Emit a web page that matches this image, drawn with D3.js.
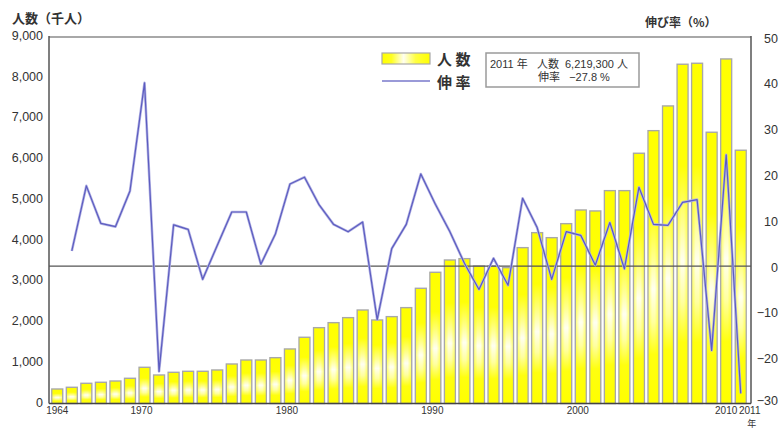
<!DOCTYPE html>
<html>
<head>
<meta charset="utf-8">
<script src="https://cdn.jsdelivr.net/npm/d3@7"></script>
<style>
  html, body { margin: 0; padding: 0; background: #fff; }
  svg { display: block; }
  text { fill: #333; }
</style>
</head>
<body>
<svg id="chart" width="781" height="428"></svg>
<script>
// Visitor numbers (thousands) and year-on-year growth (%)
const years = [1964, 1965, 1966, 1967, 1968, 1969, 1970, 1971, 1972, 1973, 1974, 1975,
  1976, 1977, 1978, 1979, 1980, 1981, 1982, 1983, 1984, 1985, 1986, 1987,
  1988, 1989, 1990, 1991, 1992, 1993, 1994, 1995, 1996, 1997, 1998, 1999,
  2000, 2001, 2002, 2003, 2004, 2005, 2006, 2007, 2008, 2009, 2010, 2011];

const visitors = [356, 398, 496, 521, 552, 619, 889, 700, 766, 791, 791, 823,
  970, 1068, 1068, 1125, 1339, 1626, 1862, 1985, 2108, 2296, 2051, 2133,
  2354, 2829, 3222, 3524, 3557, 3377, 3377, 3336, 3827, 4195, 4072, 4416,
  4752, 4728, 5227, 5227, 6145, 6700, 7307, 8331, 8355, 6661, 8461, 6219.3];

const growth = [null, 3.3, 17.5, 9.3, 8.6, 16.4, 40.0, -23.0, 9.0, 8.0, -2.9, 4.5,
  11.8, 11.8, 0.4, 7.0, 17.9, 19.4, 13.4, 9.1, 7.5, 9.6, -11.7, 3.8,
  9.1, 20.1, 13.5, 7.5, 0.6, -5.1, 1.7, -4.2, 14.8, 8.4, -2.9, 7.5,
  6.7, 0.2, 9.5, -0.6, 17.2, 9.1, 8.9, 13.9, 14.5, -18.4, 24.3, -27.8];

const leftTicks = [0, 1000, 2000, 3000, 4000, 5000, 6000, 7000, 8000, 9000];
const rightTicks = [-30, -20, -10, 0, 10, 20, 30, 40, 50];
const yearLabels = [1964, 1970, 1980, 1990, 2000, 2010, 2011];

const FONT = '"Liberation Sans", Arial, "Noto Sans CJK JP", sans-serif';
const JFONT = '"Noto Sans CJK JP", "Liberation Sans", sans-serif';

const svg = d3.select("#chart");
const plotL = 49, plotR = 751, plotT = 37, plotB = 403.5;

const x = d3.scaleBand().domain(years).range([50, 748])
  .paddingInner(0.25).paddingOuter(0.125);
const yL = d3.scaleLinear().domain([0, 9000]).range([plotB, plotT]);
const yR = d3.scaleLinear().domain([-30, 50]).range([plotB, plotT]);

// Gradients
const defs = svg.append("defs");
const gBar = defs.append("linearGradient").attr("id", "barFill")
  .attr("x1", 0).attr("y1", 0).attr("x2", 0).attr("y2", 1);
[[0, "#ffff00"], [0.3, "#ffff08"], [0.47, "#ffff90"], [0.58, "#fffff0"],
 [0.7, "#ffffa0"], [0.82, "#ffff10"], [1, "#ffff00"]].forEach(([o, c]) =>
  gBar.append("stop").attr("offset", o).attr("stop-color", c));
const gEdge = defs.append("linearGradient").attr("id", "barEdge")
  .attr("x1", 0).attr("y1", 0).attr("x2", 1).attr("y2", 0);
[[0, 0.45], [0.35, 0], [0.65, 0], [1, 0.45]].forEach(([o, a]) =>
  gEdge.append("stop").attr("offset", o).attr("stop-color", "#ffff00").attr("stop-opacity", a));
const gLeg = defs.append("linearGradient").attr("id", "legFill")
  .attr("x1", 0).attr("y1", 0).attr("x2", 1).attr("y2", 0);
[[0, "#ffff00"], [0.2, "#ffff20"], [0.45, "#fffff0"], [0.7, "#ffff40"], [1, "#ffff00"]]
  .forEach(([o, c]) => gLeg.append("stop").attr("offset", o).attr("stop-color", c));

// Bars
const bars = svg.append("g");
bars.selectAll("rect.bar").data(years).join("rect")
  .attr("class", "bar")
  .attr("x", d => x(d))
  .attr("y", (d, i) => yL(visitors[i]))
  .attr("width", x.bandwidth())
  .attr("height", (d, i) => plotB - yL(visitors[i]))
  .attr("fill", "url(#barFill)")
  .attr("stroke", "#a8a8a8").attr("stroke-width", 1.4);
bars.selectAll("rect.edge").data(years).join("rect")
  .attr("class", "edge")
  .attr("x", d => x(d) + 0.7)
  .attr("y", (d, i) => yL(visitors[i]) + 0.7)
  .attr("width", x.bandwidth() - 1.4)
  .attr("height", (d, i) => Math.max(0, plotB - yL(visitors[i]) - 1.4))
  .attr("fill", "url(#barEdge)");

// Frame
svg.append("line").attr("x1", plotL).attr("x2", plotR).attr("y1", plotT).attr("y2", plotT)
  .attr("stroke", "#a8a8a8").attr("stroke-width", 2);
svg.append("line").attr("x1", plotL).attr("x2", plotL).attr("y1", plotT - 1).attr("y2", plotB)
  .attr("stroke", "#555").attr("stroke-width", 1.5);
svg.append("line").attr("x1", plotR).attr("x2", plotR).attr("y1", plotT - 1).attr("y2", plotB)
  .attr("stroke", "#555").attr("stroke-width", 1.5);
svg.append("line").attr("x1", plotL).attr("x2", plotR).attr("y1", plotB).attr("y2", plotB)
  .attr("stroke", "#444").attr("stroke-width", 1.5);

// Zero line of growth axis
svg.append("line").attr("x1", plotL).attr("x2", plotR)
  .attr("y1", yR(0)).attr("y2", yR(0))
  .attr("stroke", "#555").attr("stroke-width", 1.2);

// Growth line
const pts = years.map((yr, i) => [yr, growth[i]]).filter(d => d[1] !== null);
const line = d3.line().x(d => x(d[0]) + x.bandwidth() / 2).y(d => yR(d[1]));
svg.append("path").datum(pts).attr("d", line)
  .attr("fill", "none").attr("stroke", "#b4b4e4").attr("stroke-width", 2.6)
  .attr("stroke-linejoin", "round");
svg.append("path").datum(pts).attr("d", line)
  .attr("fill", "none").attr("stroke", "#5c5cc0").attr("stroke-width", 1.2)
  .attr("stroke-linejoin", "round");

// Left axis
const axL = svg.append("g").attr("transform", `translate(${plotL},0)`)
  .call(d3.axisLeft(yL).tickValues(leftTicks).tickSize(0).tickPadding(6)
    .tickFormat(d3.format(",")));
axL.select(".domain").remove();
axL.selectAll("text").attr("font-family", FONT).attr("font-size", 12.5)
  .attr("fill", "#333").attr("dy", "0.2em");

// Right axis
const axR = svg.append("g").attr("transform", `translate(${plotR},0)`)
  .call(d3.axisRight(yR).tickValues(rightTicks).tickSize(0).tickPadding(27)
    .tickFormat(d3.format("d")));
axR.select(".domain").remove();
axR.selectAll("text").attr("font-family", FONT).attr("font-size", 12.5)
  .attr("fill", "#333").attr("text-anchor", "end")
  .attr("dy", d => d === -30 ? "0.1em" : "0.4em");

// Bottom axis
const axB = svg.append("g").attr("transform", `translate(0,${plotB})`)
  .call(d3.axisBottom(x).tickValues(yearLabels).tickSize(0).tickPadding(3));
axB.select(".domain").remove();
axB.selectAll("text").attr("font-family", FONT).attr("font-size", 10)
  .attr("fill", "#333")
  .attr("dx", d => d === 2011 ? 9 : (d === 1964 || d === 2010 ? 0 : -3));
svg.append("text").attr("x", x(2011) + x.bandwidth() / 2 + 11).attr("y", 426.5)
  .attr("text-anchor", "middle").attr("font-family", JFONT).attr("font-size", 9)
  .text("年");

// Axis titles
svg.append("text").attr("x", 12).attr("y", 23).attr("font-family", JFONT)
  .attr("font-size", 13).attr("font-weight", "bold").attr("fill", "#444")
  .text("人数（千人）");
svg.append("text").attr("x", 645).attr("y", 27).attr("font-family", JFONT)
  .attr("font-size", 12).attr("font-weight", "bold").attr("fill", "#444")
  .text("伸び率（%）");

// Legend
svg.append("rect").attr("x", 382).attr("y", 53).attr("width", 48).attr("height", 11)
  .attr("fill", "url(#legFill)").attr("stroke", "#a8a8a8").attr("stroke-width", 1.2);
svg.append("line").attr("x1", 382).attr("x2", 430).attr("y1", 81).attr("y2", 81)
  .attr("stroke", "#9a9ad8").attr("stroke-width", 2);
svg.append("text").attr("x", 437).attr("y", 65).attr("font-family", JFONT)
  .attr("font-size", 15).attr("font-weight", "bold").attr("fill", "#333")
  .style("white-space", "pre").text("人 数");
svg.append("text").attr("x", 437).attr("y", 88).attr("font-family", JFONT)
  .attr("font-size", 15).attr("font-weight", "bold").attr("fill", "#333")
  .style("white-space", "pre").text("伸 率");

// Latest-year note
const last = years.length - 1;
svg.append("rect").attr("x", 486).attr("y", 53).attr("width", 153).attr("height", 34)
  .attr("fill", "#fff").attr("stroke", "#9a9a9a").attr("stroke-width", 1.5);
svg.append("text").attr("x", 490).attr("y", 67.5).attr("font-family", FONT)
  .attr("font-size", 11).attr("fill", "#222").style("white-space", "pre")
  .text(`${years[last]} 年   人数  ${d3.format(",")(Math.round(visitors[last] * 1000))} 人`);
svg.append("text").attr("x", 538).attr("y", 80.5).attr("font-family", FONT)
  .attr("font-size", 11).attr("fill", "#222").style("white-space", "pre")
  .text(`伸率   ${d3.format(".1f")(growth[last])} %`);
</script>
</body>
</html>
